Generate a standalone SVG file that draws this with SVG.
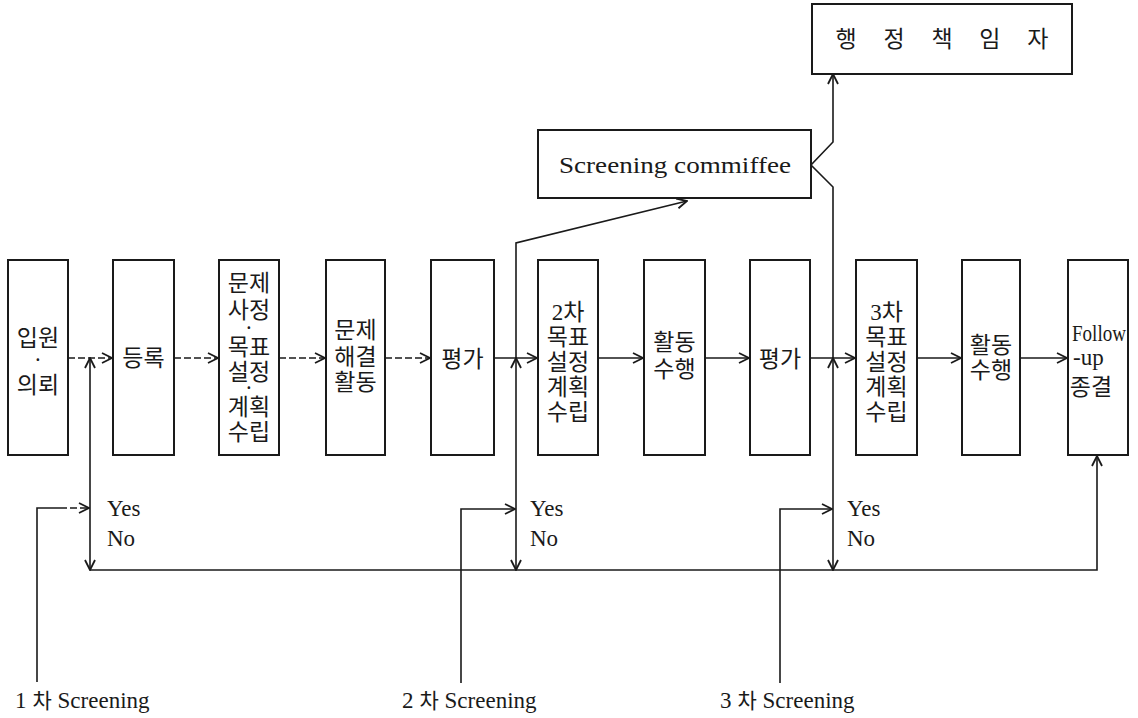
<svg xmlns="http://www.w3.org/2000/svg" width="1138" height="718" viewBox="0 0 1138 718">
<style>
.box{fill:#fff;stroke:#1a1a1a;stroke-width:2}
.ln{fill:none;stroke:#1a1a1a;stroke-width:1.6}
.dash{stroke-dasharray:7 3}
.ko{font-family:"Noto Sans CJK KR","Noto Sans",sans-serif;font-size:23px;font-weight:400;fill:#1a1a1a;text-anchor:middle}
.dot{font-family:"Noto Sans CJK KR","Noto Sans",sans-serif;font-size:14px;font-weight:700;fill:#1a1a1a;text-anchor:middle}
.lat{font-family:"Liberation Serif","Noto Sans CJK KR",serif;font-size:23px;fill:#1a1a1a}
</style>
<defs>
<marker id="ah" viewBox="0 0 12 12" markerUnits="userSpaceOnUse" markerWidth="12" markerHeight="12" refX="11" refY="6" orient="auto">
<path d="M1,1 L11,6 L1,11" fill="none" stroke="#1a1a1a" stroke-width="1.8"/>
</marker>
</defs>
<rect width="1138" height="718" fill="#fff"/>

<g id="connectors">
<path class="ln dash" d="M68,358 H112" marker-end="url(#ah)"/>
<path class="ln dash" d="M174,358 H218" marker-end="url(#ah)"/>
<path class="ln dash" d="M279,358 H325" marker-end="url(#ah)"/>
<path class="ln dash" d="M385,358 H430" marker-end="url(#ah)"/>
<path class="ln" d="M494,358 H537" marker-end="url(#ah)"/>
<path class="ln" d="M598,358 H643" marker-end="url(#ah)"/>
<path class="ln" d="M705,358 H749" marker-end="url(#ah)"/>
<path class="ln" d="M810,358 H855" marker-end="url(#ah)"/>
<path class="ln" d="M917,358 H961" marker-end="url(#ah)"/>
<path class="ln" d="M1020,358 H1067" marker-end="url(#ah)"/>

<path class="ln" d="M90,508 V358" marker-end="url(#ah)"/>
<path class="ln" d="M90,508 V570" marker-end="url(#ah)"/>
<path class="ln" d="M516,509 V358" marker-end="url(#ah)"/>
<path class="ln" d="M516,358 V243 L687,201" marker-end="url(#ah)"/>
<path class="ln" d="M516,509 V570" marker-end="url(#ah)"/>
<path class="ln" d="M833,509 V358" marker-end="url(#ah)"/>
<path class="ln" d="M833,358 V187 L811,165 L833,142 V74" marker-end="url(#ah)"/>
<path class="ln" d="M833,509 V570" marker-end="url(#ah)"/>

<path class="ln" d="M90,570 H1097 V456" marker-end="url(#ah)"/>

<path class="ln" d="M37,682 V508 H60"/>
<path class="ln dash" d="M60,508 H89" marker-end="url(#ah)"/>
<path class="ln" d="M461,683 V509 H515" marker-end="url(#ah)"/>
<path class="ln" d="M780,683 V509 H832" marker-end="url(#ah)"/>
</g>

<g id="n1"><rect class="box" x="8" y="260" width="60" height="195"/>
<text class="ko" x="38" y="346">입원</text><text class="dot" x="38" y="365">·</text><text class="ko" x="38" y="393">의뢰</text></g>

<g id="n2"><rect class="box" x="113" y="260" width="61" height="195"/>
<text class="ko" x="143.5" y="366">등록</text></g>

<g id="n3"><rect class="box" x="219" y="260" width="60" height="195"/>
<text class="ko" x="249" y="291">문제</text><text class="ko" x="249" y="318">사정</text><text class="dot" x="249" y="333">·</text><text class="ko" x="249" y="355">목표</text><text class="ko" x="249" y="380">설정</text><text class="dot" x="249" y="393">·</text><text class="ko" x="249" y="415">계획</text><text class="ko" x="249" y="440">수립</text></g>

<g id="n4"><rect class="box" x="326" y="260" width="59" height="195"/>
<text class="ko" x="355.5" y="338">문제</text><text class="ko" x="355.5" y="365">해결</text><text class="ko" x="355.5" y="390">활동</text></g>

<g id="n5"><rect class="box" x="431" y="260" width="63" height="195"/>
<text class="ko" x="462.5" y="367">평가</text></g>

<g id="n6"><rect class="box" x="538" y="260" width="60" height="195"/>
<text class="ko" x="568" y="320"><tspan font-family="Liberation Serif">2</tspan>차</text><text class="ko" x="568" y="345">목표</text><text class="ko" x="568" y="370">설정</text><text class="ko" x="568" y="395">계획</text><text class="ko" x="568" y="420">수립</text></g>

<g id="n7"><rect class="box" x="644" y="260" width="61" height="195"/>
<text class="ko" x="674.5" y="350">활동</text><text class="ko" x="674.5" y="377">수행</text></g>

<g id="n8"><rect class="box" x="750" y="260" width="60" height="195"/>
<text class="ko" x="780" y="367">평가</text></g>

<g id="n9"><rect class="box" x="856" y="260" width="61" height="195"/>
<text class="ko" x="886.5" y="320"><tspan font-family="Liberation Serif">3</tspan>차</text><text class="ko" x="886.5" y="345">목표</text><text class="ko" x="886.5" y="370">설정</text><text class="ko" x="886.5" y="395">계획</text><text class="ko" x="886.5" y="420">수립</text></g>

<g id="n10"><rect class="box" x="962" y="260" width="58" height="195"/>
<text class="ko" x="991" y="353">활동</text><text class="ko" x="991" y="378">수행</text></g>

<g id="n11"><rect class="box" x="1068" y="260" width="60" height="195"/>
<text class="lat" x="1072" y="341" font-size="18" textLength="54" lengthAdjust="spacingAndGlyphs">Follow</text>
<text class="lat" x="1073" y="365" font-size="18">-up</text>
<text class="ko" x="1091" y="395" font-size="18">종결</text></g>

<g id="committee"><rect class="box" x="538" y="130" width="273" height="68"/>
<text class="lat" x="675" y="173" font-size="25" text-anchor="middle" textLength="232" lengthAdjust="spacingAndGlyphs">Screening commiffee</text></g>

<g id="admin"><rect class="box" x="812" y="4" width="260" height="70"/>
<text class="ko" x="942" y="47" font-size="21" textLength="213" lengthAdjust="spacing">행 정 책 임 자</text></g>

<g id="labels">
<text class="lat" x="107" y="516">Yes</text><text class="lat" x="107" y="546">No</text>
<text class="lat" x="530" y="516">Yes</text><text class="lat" x="530" y="546">No</text>
<text class="lat" x="847" y="516">Yes</text><text class="lat" x="847" y="546">No</text>
<text class="lat" x="15" y="708">1<tspan dx="6" font-family="Noto Sans CJK KR" font-size="21">차</tspan> Screening</text>
<text class="lat" x="402" y="708">2<tspan dx="6" font-family="Noto Sans CJK KR" font-size="21">차</tspan> Screening</text>
<text class="lat" x="720" y="708">3<tspan dx="6" font-family="Noto Sans CJK KR" font-size="21">차</tspan> Screening</text>
</g>
</svg>
